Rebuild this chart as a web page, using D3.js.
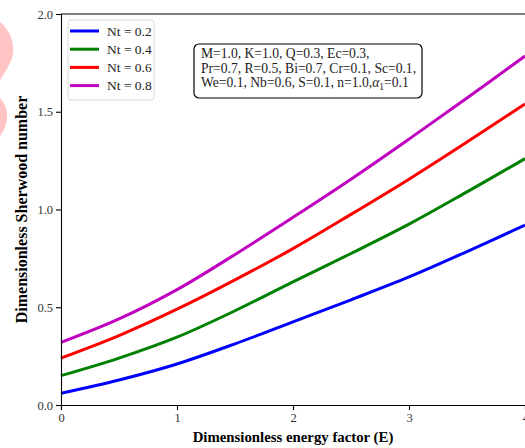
<!DOCTYPE html>
<html>
  <head>
    <meta charset="utf-8">
    <title></title>
    <script type="text/javascript" src="https://d3js.org/d3.v7.min.js"></script>
    <style media="screen">
      body { margin: 0; background: #fff; }
      svg { display: block; font-family: "Liberation Serif", "DejaVu Serif", serif; }
    </style>
  </head>
  <body>
    <script type="text/javascript">

      var w = 525;
      var h = 448;

      // E values and Sherwood number
      var energy = [0, 0.5, 1, 1.5, 2, 2.5, 3, 3.5, 4];
      var nt02 = [0.06, 0.128, 0.21, 0.313, 0.425, 0.538, 0.655, 0.785, 0.92];
      var nt04 = [0.15, 0.24, 0.347, 0.482, 0.63, 0.775, 0.925, 1.09, 1.26];
      var nt06 = [0.24, 0.355, 0.49, 0.64, 0.80, 0.975, 1.155, 1.345, 1.54];
      var nt08 = [0.32, 0.44, 0.59, 0.77, 0.96, 1.155, 1.36, 1.57, 1.785];
      var seriesNames = ["Nt = 0.2", "Nt = 0.4", "Nt = 0.6", "Nt = 0.8"];
      var colors = ["#0000ff", "#008000", "#ff0000", "#bf00bf"];
      var xTicks = [0, 1, 2, 3, 4];
      var yTicks = [0.0, 0.5, 1.0, 1.5, 2.0];
      var infoLines = [
        "M=1.0, K=1.0, Q=0.3, Ec=0.3,",
        "Pr=0.7, R=0.5, Bi=0.7, Cr=0.1, Sc=0.1,",
        "We=0.1, Nb=0.6, S=0.1, n=1.0,"
      ];

      var padLeft = 61, padTop = 14, padRight = 525, padBottom = 405;

      var xscale = d3.scaleLinear().domain([0, 4]).range([padLeft, padRight]);
      var yscale = d3.scaleLinear().domain([0, 2]).range([padBottom, padTop]);

      var svg = d3.select('body').append('svg')
        .attr('width', w)
        .attr('height', h);

      // pink marks at the left edge of the picture
      svg.append('path')
        .attr('d', 'M0,22 C10,30 16,45 12,58 C9,66 4,74 0,80 Z')
        .attr('fill', '#ffc4c4');
      svg.append('path')
        .attr('d', 'M0,98 C6,104 9,114 6,124 C4,130 2,134 0,136 Z')
        .attr('fill', '#ffc4c4');

      var allSeries = [nt02, nt04, nt06, nt08];

      var line = d3.line()
        .x(function(d, i){ return xscale(energy[i]); })
        .y(function(d){ return yscale(d); })
        .curve(d3.curveCatmullRom);

      svg.selectAll('.curve')
        .data(allSeries)
        .enter()
        .append('path')
        .attr('class', 'curve')
        .attr('d', line)
        .attr('fill', 'none')
        .attr('stroke', function(d, i){ return colors[i]; })
        .attr('stroke-width', 3);

      var xAxis = d3.axisBottom(xscale).tickValues(xTicks).tickFormat(d3.format('d')).tickSize(5).tickPadding(3);
      var yAxis = d3.axisLeft(yscale).tickValues(yTicks).tickFormat(d3.format('.1f')).tickSize(5).tickPadding(3);

      svg.append('g')
        .attr('class', 'x axis')
        .attr('transform', 'translate(0,' + padBottom + ')')
        .call(xAxis);
      svg.append('g')
        .attr('class', 'y axis')
        .attr('transform', 'translate(' + padLeft + ',0)')
        .call(yAxis);

      svg.selectAll('.axis text')
        .style('font-family', '"Liberation Serif", serif')
        .style('font-size', '12.5px')
        .attr('fill', '#333');
      svg.selectAll('.axis path, .axis line').attr('stroke', '#000').attr('stroke-width', 1.1);

      // top spine
      svg.append('line')
        .attr('x1', padLeft).attr('x2', padRight)
        .attr('y1', padTop).attr('y2', padTop)
        .attr('stroke', '#000').attr('stroke-width', 1.1);

      svg.append('text')
        .attr('x', (padLeft + padRight) / 2)
        .attr('y', 442)
        .attr('text-anchor', 'middle')
        .style('font-weight', 'bold')
        .style('font-size', '14.8px')
        .text('Dimensionless energy factor (E)');

      svg.append('text')
        .attr('transform', 'translate(27,' + ((padTop + padBottom) / 2) + ')rotate(-90)')
        .attr('text-anchor', 'middle')
        .style('font-weight', 'bold')
        .style('font-size', '16px')
        .text('Dimensionless Sherwood number');

      // legend
      svg.append('rect')
        .attr('x', 68).attr('y', 20)
        .attr('width', 86).attr('height', 80)
        .attr('rx', 3)
        .attr('fill', '#fff')
        .attr('stroke', '#d8d8d8');

      var leg = svg.selectAll('.leg')
        .data(seriesNames)
        .enter()
        .append('g')
        .attr('class', 'leg')
        .attr('transform', function(d, i){ return 'translate(70,' + (31 + i * 18.2) + ')'; });
      leg.append('line')
        .attr('x1', 0).attr('x2', 29)
        .attr('stroke', function(d, i){ return colors[i]; })
        .attr('stroke-width', 3);
      leg.append('text')
        .attr('x', 37).attr('y', 4.5)
        .style('font-size', '13.5px')
        .attr('fill', '#222')
        .text(function(d){ return d; });

      // parameter box
      svg.append('rect')
        .attr('x', 194).attr('y', 44)
        .attr('width', 228).attr('height', 54)
        .attr('rx', 5)
        .attr('fill', '#fff')
        .attr('stroke', '#000')
        .attr('stroke-width', 1.2);

      var info = svg.append('text')
        .style('font-size', '13.6px')
        .attr('fill', '#222');
      info.selectAll('tspan')
        .data(infoLines)
        .enter()
        .append('tspan')
        .attr('x', 201)
        .attr('y', function(d, i){ return 58 + i * 14.5; })
        .text(function(d){ return d; });
      info.append('tspan').style('font-style', 'italic').text('α');
      info.append('tspan').attr('dy', 3).style('font-size', '9.5px').text('1');
      info.append('tspan').attr('dy', -3).text('=0.1');

    </script>
  </body>
</html>
